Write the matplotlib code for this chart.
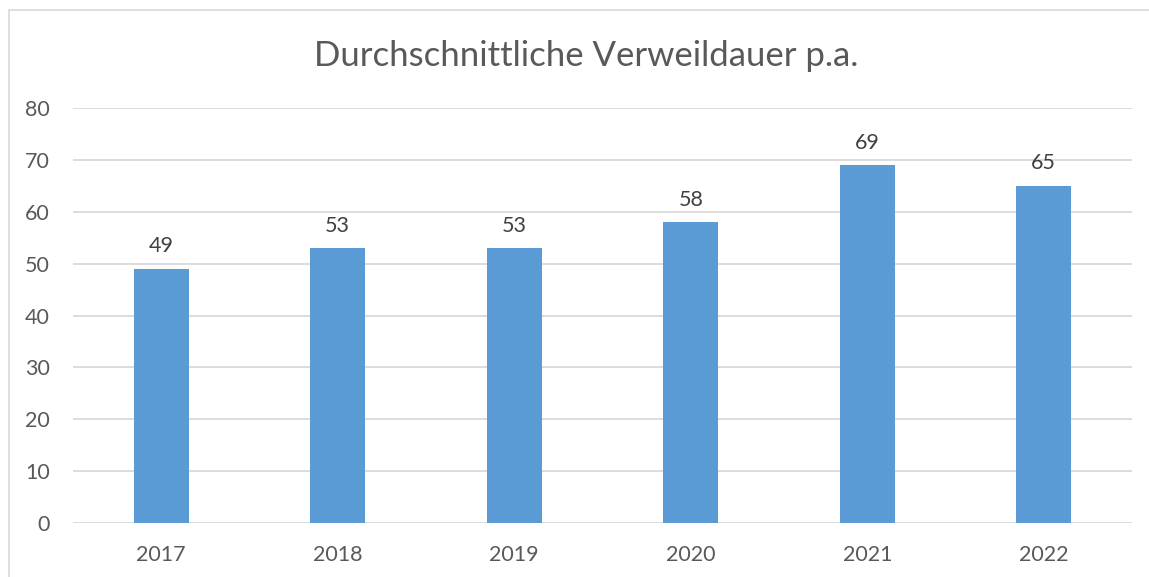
import matplotlib
matplotlib.use("Agg")
import matplotlib.pyplot as plt
from matplotlib.patches import Rectangle

years = ["2017", "2018", "2019", "2020", "2021", "2022"]
values = [49, 53, 53, 58, 69, 65]
title = "Durchschnittliche Verweildauer p.a."

plt.rcParams['font.family'] = ['Lato', 'DejaVu Sans']
text_color = "#595959"
grid_color = "#d9d9d9"
bar_color = "#5B9BD5"

fig = plt.figure(figsize=(11.49, 5.77), dpi=100)
fig.patches.append(Rectangle((9/1149, -0.1), 1.2, (577-10)/577 + 0.1, transform=fig.transFigure,
                             fill=False, edgecolor=grid_color, linewidth=1.2))
ax = fig.add_axes([73/1149, 1-523/577, (1132-73)/1149, (523-108)/577])
x = range(len(years))
bars = ax.bar(x, values, width=0.31, color=bar_color, zorder=3)
ax.bar_label(bars, labels=[str(v) for v in values], padding=9, fontsize=15.5, color="#404040")
ax.set_xlim(-0.5, len(years) - 0.5)
ax.set_ylim(0, 80)
ax.set_yticks(range(0, 81, 10))
ax.set_xticks(list(x))
ax.set_xticklabels(years)
ax.tick_params(axis='both', length=0, labelsize=15.5, labelcolor=text_color)
ax.tick_params(axis='y', pad=16.5)
ax.tick_params(axis='x', pad=15.5)
ax.grid(axis='y', color=grid_color, linewidth=1.3, zorder=0)
for s in ax.spines.values():
    s.set_visible(False)
ax.set_facecolor('none')
fig.text(586/1149, 1-56/577, title, ha='center', va='center', fontsize=25, color=text_color)
fig.savefig("out.png", dpi=100)
